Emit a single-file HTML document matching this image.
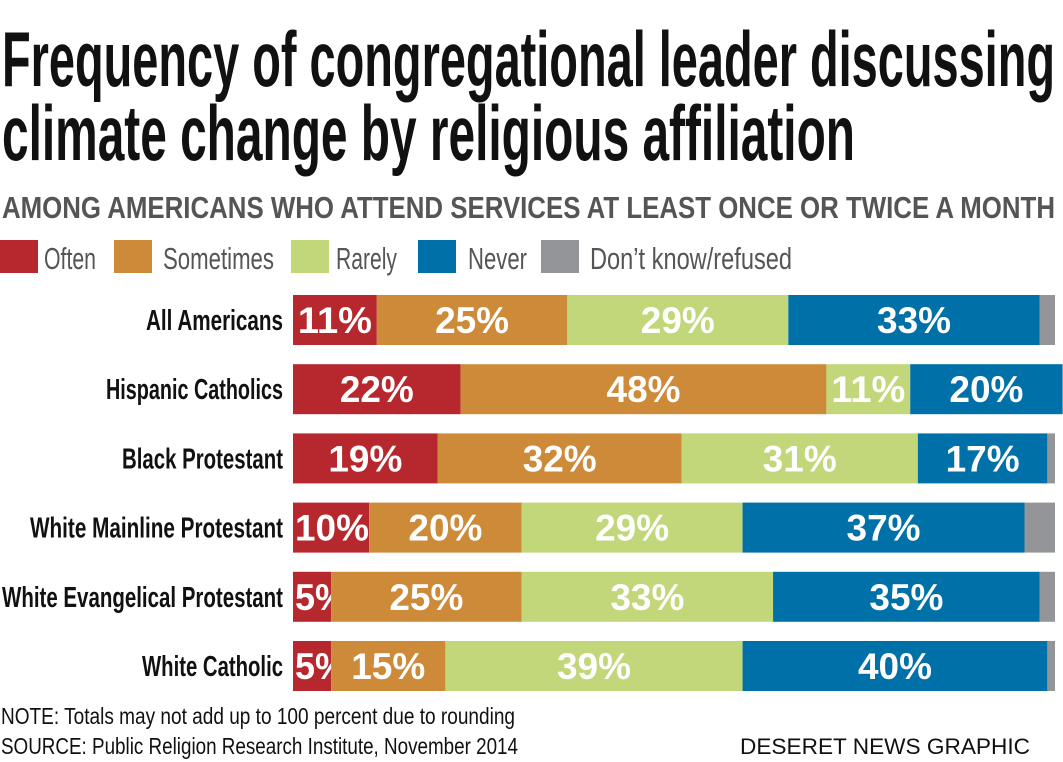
<!DOCTYPE html>
<html><head><meta charset="utf-8">
<style>
html,body{margin:0;padding:0;background:#fff;}
svg{display:block;font-family:"Liberation Sans Narrow","Liberation Sans",sans-serif;}
</style></head>
<body>
<svg id="chart" width="1063" height="762" viewBox="0 0 1063 762" xmlns="http://www.w3.org/2000/svg">
<text x="2" y="86" font-size="78" font-weight="bold" textLength="1053" lengthAdjust="spacingAndGlyphs" fill="#111">Frequency of congregational leader discussing</text>
<text x="2" y="160" font-size="78" font-weight="bold" textLength="853" lengthAdjust="spacingAndGlyphs" fill="#111">climate change by religious affiliation</text>
<text x="2" y="218" font-size="31" font-weight="bold" textLength="1053" lengthAdjust="spacingAndGlyphs" fill="#555">AMONG AMERICANS WHO ATTEND SERVICES AT LEAST ONCE OR TWICE A MONTH</text>
<g id="legend"></g>
<g id="bars"></g>
<text x="1" y="724" font-size="23" textLength="514" lengthAdjust="spacingAndGlyphs" fill="#111">NOTE: Totals may not add up to 100 percent due to rounding</text>
<text x="1" y="754" font-size="23" textLength="517" lengthAdjust="spacingAndGlyphs" fill="#111">SOURCE: Public Religion Research Institute, November 2014</text>
<text x="740" y="754" font-size="22" textLength="290" lengthAdjust="spacingAndGlyphs" font-family="Liberation Sans, sans-serif" fill="#111">DESERET NEWS GRAPHIC</text>
</svg>
<script>
const categories=["All Americans","Hispanic Catholics","Black Protestant","White Mainline Protestant","White Evangelical Protestant","White Catholic"];
const seriesNames=["Often","Sometimes","Rarely","Never","Don’t know/refused"];
const often=[11,22,19,10,5,5];
const sometimes=[25,48,32,20,25,15];
const rarely=[29,11,31,29,33,39];
const never=[33,20,17,37,35,40];
const dontKnow=[2,0,1,4,2,1];
const colors=["#b7282e","#cd8a38","#c2d67a","#0070a8","#939598"];
const NS="http://www.w3.org/2000/svg";
const x0=293,pxPer=7.62,rowTop=295,rowStep=69.2,barH=50;
const xScale=v=>x0+v*pxPer;
const yScale=i=>rowTop+i*rowStep;
const series=[often,sometimes,rarely,never,dontKnow];
const catW=[137,177,161,253,281,141];
const bars=document.getElementById('bars');
categories.forEach((c,i)=>{
  const y=yScale(i);
  const lab=document.createElementNS(NS,'text');
  
  
  lab.setAttribute('x',283-catW[i]);lab.setAttribute('y',y+barH/2+10);
  lab.setAttribute('font-size','29');lab.setAttribute('font-weight','bold');
  lab.setAttribute('textLength',catW[i]);lab.setAttribute('lengthAdjust','spacingAndGlyphs');
  lab.setAttribute('fill','#111');lab.textContent=c;bars.appendChild(lab);
  let cum=0;
  series.forEach((s,k)=>{
    const v=s[i];if(v<=0)return;
    const r=document.createElementNS(NS,'rect');
    
    
    const xa=xScale(cum),xb=xScale(cum+v);
    r.setAttribute('x',xa);r.setAttribute('y',y);r.setAttribute('width',xb-xa);r.setAttribute('height',barH);
    r.setAttribute('fill',colors[k]);bars.appendChild(r);
    if(k<4){
      const txt=v+'%';
      const w=22*txt.length+8;
      const t=document.createElementNS(NS,'text');
      
      
      t.setAttribute('x',Math.max((xa+xb)/2-w/2,xa+2));t.setAttribute('y',y+barH/2+13);
      t.setAttribute('font-size','37');t.setAttribute('font-weight','bold');
      t.setAttribute('textLength',w);t.setAttribute('lengthAdjust','spacingAndGlyphs');
      t.setAttribute('fill','#fff');t.textContent=txt;bars.appendChild(t);
    }
    cum+=v;
  });
});
const legend=document.getElementById('legend');
const legSq=[0,114,291,418,541],legTx=[44,163,336,468,590],legW=[52,111,61,59,202];
seriesNames.forEach((n,k)=>{
  const r=document.createElementNS(NS,'rect');
  
  
  r.setAttribute('x',legSq[k]);r.setAttribute('y',240);r.setAttribute('width',38);r.setAttribute('height',33);
  r.setAttribute('fill',colors[k]);legend.appendChild(r);
  const t=document.createElementNS(NS,'text');
  
  
  t.setAttribute('x',legTx[k]);t.setAttribute('y',269);t.setAttribute('font-size','31');
  t.setAttribute('textLength',legW[k]);t.setAttribute('lengthAdjust','spacingAndGlyphs');
  t.setAttribute('fill','#555');t.textContent=n;legend.appendChild(t);
});
</script>
</body></html>
